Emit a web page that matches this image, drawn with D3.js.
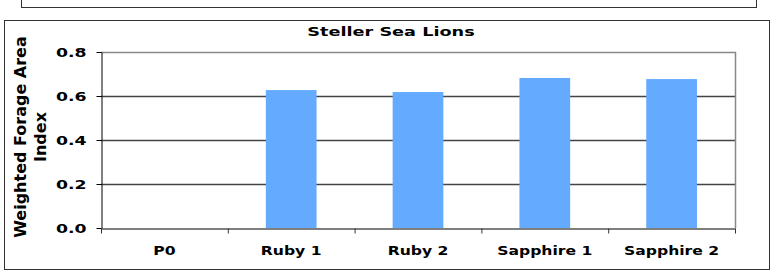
<!DOCTYPE html>
<html>
<head>
<meta charset="utf-8">
<script src="https://cdn.jsdelivr.net/npm/d3@7"></script>
<style>
  body { margin: 0; background: #fff; }
  text { font-family: "DejaVu Sans", Verdana, sans-serif; font-weight: bold; fill: #000; }
</style>
</head>
<body>
<div id="chart"></div>
<script>
// chart data
var chartTitle = "Steller Sea Lions";
var yLabelLines = ["Weighted Forage Area", "Index"];
var categories = ["P0", "Ruby 1", "Ruby 2", "Sapphire 1", "Sapphire 2"];
var values = [0, 0.627, 0.618, 0.682, 0.677];
var yTicks = [0, 0.2, 0.4, 0.6, 0.8];

var w = 775, h = 275;
var m = {left: 101, right: 735, top: 52, bottom: 228};

var svg = d3.select("#chart")
			.append("svg")
			.attr("width", w)
			.attr("height", h);

// empty box at the top (cut off)
svg.append("rect")
	.attr("x", 21.5).attr("y", -5)
	.attr("width", 735).attr("height", 12.5)
	.attr("fill", "none")
	.attr("stroke", "#333");

// outer chart frame
svg.append("rect")
	.attr("x", 4.5).attr("y", 20.5)
	.attr("width", 765).attr("height", 249)
	.attr("fill", "#fff")
	.attr("stroke", "#333");

var x = d3.scaleBand()
		  .domain(categories)
		  .range([m.left, m.right])
		  .padding(0);

var y = d3.scaleLinear()
		  .domain([0, 0.8])
		  .range([m.bottom, m.top]);

// gridlines
svg.append("g")
	.selectAll("line")
	.data(yTicks.filter(d => d > 0 && d < 0.8))
	.enter()
	.append("line")
	.attr("x1", m.left).attr("x2", m.right)
	.attr("y1", d => y(d) + 0.5).attr("y2", d => y(d) + 0.5)
	.attr("stroke", "#444")
	.attr("stroke-width", 1.5);

// plot area border (top / right)
svg.append("path")
	.attr("d", "M" + m.left + "," + (m.top + 0.5) + "H" + (m.right + 0.5) + "V" + m.bottom)
	.attr("fill", "none")
	.attr("stroke", "#888")
	.attr("stroke-width", 1.5);

// bars
var bw = x.bandwidth() * 0.4;
svg.append("g")
	.selectAll("rect")
	.data(values)
	.enter()
	.append("rect")
	.attr("x", (d, i) => x(categories[i]) + (x.bandwidth() - bw) / 2)
	.attr("y", d => y(d))
	.attr("width", bw)
	.attr("height", d => y(0) - y(d))
	.attr("fill", "#64aaff");

// y axis
var yAxis = svg.append("g")
	.attr("transform", "translate(" + (m.left + 0.5) + ",0)")
	.call(d3.axisLeft(y).tickValues(yTicks).tickFormat(d3.format(".1f")).tickSize(5).tickSizeOuter(0));
yAxis.select(".domain").attr("stroke", "#000");
yAxis.selectAll(".tick line").attr("stroke", "#000");
yAxis.selectAll(".tick text")
	.attr("x", 0).attr("dy", "0.36em")
	.attr("transform", "translate(-15,0) scale(1.33,1)")
	.style("font-size", "13px");

// x axis: boundary ticks + labels
var xAxis = svg.append("g")
	.attr("transform", "translate(0," + (m.bottom + 0.5) + ")")
	.call(d3.axisBottom(x).tickSize(0).tickPadding(0));
xAxis.select(".domain").attr("stroke", "#000");
xAxis.selectAll(".tick text")
	.attr("y", 0).attr("dy", 0)
	.attr("transform", "translate(0,26) scale(1.2,1)")
	.style("font-size", "13px");

xAxis.selectAll(".boundary")
	.data(categories.concat(["end"]))
	.enter()
	.append("line")
	.attr("class", "boundary")
	.attr("x1", (d, i) => (i < categories.length ? x(d) : m.right) + 0.5)
	.attr("x2", (d, i) => (i < categories.length ? x(d) : m.right) + 0.5)
	.attr("y1", 0).attr("y2", 5)
	.attr("stroke", "#333");

// title
svg.append("text")
	.attr("transform", "translate(391,36) scale(1.36,1)")
	.attr("text-anchor", "middle")
	.style("font-size", "13px")
	.text(chartTitle);

// y axis label (two lines)
svg.selectAll(".ylab")
	.data(yLabelLines)
	.enter()
	.append("text")
	.attr("class", "ylab")
	.attr("transform", (d, i) => "translate(" + (26 + i * 20) + ",137) rotate(-90)")
	.attr("text-anchor", "middle")
	.style("font-size", "16px")
	.text(d => d);
</script>
</body>
</html>
